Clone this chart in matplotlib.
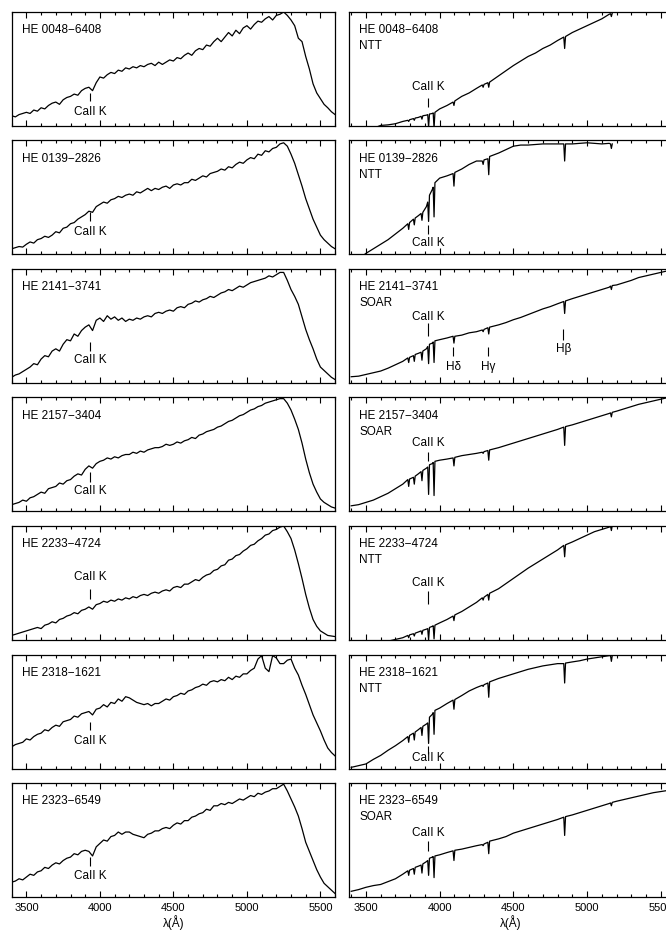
import numpy as np
import matplotlib
matplotlib.use("Agg")
import matplotlib.pyplot as plt
from matplotlib.ticker import MultipleLocator

plt.rcParams['font.family'] = ['Liberation Sans', 'DejaVu Sans']

nan = np.nan

# star names and telescopes (top to bottom)
stars = ["HE 0048\u22126408", "HE 0139\u22122826", "HE 2141\u22123741", "HE 2157\u22123404",
         "HE 2233\u22124724", "HE 2318\u22121621", "HE 2323\u22126549"]
telescopes = ["NTT", "NTT", "SOAR", "SOAR", "NTT", "NTT", "SOAR"]

# low resolution spectra (left column), 25 A sampling, relative flux
wl_low = np.arange(3400, 5601, 25)
flux_low_0048 = [9, 8, 10, 11, 12, 11, 14, 13,
                 16, 15, 18, 20, 21, 19, 23, 25,
                 26, 28, 27, 31, 33, 34, 31, 38,
                 43, 42, 45, 47, 46, 49, 48, 51,
                 50, 52, 51, 53, 52, 54, 55, 53,
                 56, 54, 56, 58, 57, 60, 59, 62,
                 64, 62, 66, 68, 67, 71, 70, 74,
                 77, 74, 78, 82, 79, 84, 81, 86,
                 88, 85, 89, 92, 91, 94, 96, 93,
                 97, 98, 100, 97, 93, 88, 77, 74,
                 61, 50, 37, 29, 24, 19, 16, 12.5,
                 10]
flux_low_0139 = [5, 6, 7, 6.5, 9, 11, 10, 13,
                 14, 16, 15, 17, 20, 19, 23, 24,
                 27, 28, 31, 33, 35, 38, 37, 42,
                 44, 46, 45, 48, 49, 51, 50, 52,
                 53, 52, 55, 54, 56, 58, 56, 58,
                 57, 59, 60, 58, 61, 62, 61, 63,
                 63, 66, 65, 67, 69, 68, 71, 72,
                 73, 75, 74, 77, 76, 79, 81, 80,
                 83, 85, 84, 88, 87, 91, 90, 93,
                 94, 97, 98, 95, 88, 80, 70, 60,
                 49, 40, 31, 24, 17, 13, 10, 7,
                 5]
flux_low_2141 = [5, 7, 8, 10, 12, 14, 17, 16,
                 21, 24, 23, 28, 30, 28, 34, 38,
                 37, 43, 41, 46, 49, 51, 46, 55,
                 57, 54, 59, 56, 58, 55, 57, 54,
                 56, 55, 57, 56, 58, 59, 58, 61,
                 62, 61, 63, 64, 63, 66, 67, 66,
                 69, 70, 72, 71, 73, 74, 76, 75,
                 77, 79, 80, 82, 81, 83, 85, 84,
                 86, 88, 89, 90, 91, 92, 94, 93,
                 95, 97, 97, 90, 82, 76, 69, 58,
                 47, 38, 30, 21, 14, 11, 8, 5,
                 3]
flux_low_2157 = [6, 7, 8, 10, 9, 12, 13, 15,
                 17, 16, 20, 21, 22, 25, 24, 27,
                 28, 31, 33, 32, 37, 40, 38, 42,
                 44, 45, 47, 46, 48, 47, 49, 50,
                 50, 52, 51, 53, 52, 54, 55, 56,
                 56, 57, 59, 58, 59, 61, 60, 62,
                 63, 65, 64, 67, 68, 70, 71, 72,
                 74, 75, 77, 79, 80, 82, 84, 85,
                 87, 89, 90, 92, 93, 95, 96, 97,
                 98, 99, 99, 95, 89, 81, 72, 60,
                 46, 34, 24, 17, 11, 8, 6, 4,
                 3]
flux_low_2233 = [4, 5, 6, 7, 8, 9, 10, 11,
                 10, 13, 14, 16, 15, 18, 19, 21,
                 22, 24, 23, 26, 27, 29, 27, 31,
                 32, 34, 33, 35, 34, 36, 35, 37,
                 36, 38, 37, 39, 40, 39, 41, 42,
                 41, 43, 44, 43, 46, 47, 46, 49,
                 49, 51, 53, 52, 55, 57, 58, 61,
                 62, 65, 66, 70, 71, 74, 75, 78,
                 80, 83, 84, 87, 89, 92, 93, 96,
                 97, 99, 100, 95, 89, 79, 67, 54,
                 40, 28, 18, 12, 8, 6, 4, 3.5,
                 3]
flux_low_2318 = [19, 21, 22, 23, 26, 25, 28, 30,
                 31, 34, 33, 36, 38, 37, 41, 42,
                 43, 46, 45, 48, 49, 50, 47, 52,
                 53, 56, 54, 58, 57, 61, 59, 63,
                 62, 60, 58, 57, 56, 57, 55, 57,
                 57, 59, 61, 60, 63, 64, 66, 65,
                 68, 69, 71, 72, 74, 73, 76, 77,
                 76, 78, 77, 80, 78, 81, 80, 83,
                 83, 86, 88, 96, 99, 88, 85, 99,
                 97, 92, 92, 95, 96, 88, 82, 73,
                 65, 56, 47, 40, 33, 25, 18, 14,
                 11]
flux_low_2323 = [13, 14, 16, 15, 17.5, 20, 19, 22,
                 23, 26, 25, 28, 30, 29, 32, 34,
                 35, 38, 37, 40, 41, 40, 36, 44,
                 47, 50, 49, 53, 54, 57, 55, 57,
                 57, 55, 54, 53, 52, 55, 56, 58,
                 58, 60, 61, 60, 63, 65, 64, 67,
                 67, 70, 71, 73, 74, 77, 76, 80,
                 80, 82, 81, 83, 82, 84, 86, 85,
                 87, 89, 88, 91, 90, 92, 93, 95,
                 95, 97, 99, 93, 86, 79, 71, 60,
                 48, 40, 32, 24, 17.5, 12, 9, 6,
                 3]

# medium resolution spectra (right column), sampled around the absorption lines
wl_med = [3400, 3450, 3500, 3550, 3600, 3650, 3700, 3750,
          3784, 3790, 3796, 3822, 3828, 3834, 3855, 3874, 3880, 3886,
          3910, 3919, 3925, 3931, 3950, 3956, 3962, 3968,
          4000, 4050, 4091, 4097, 4103, 4150, 4200, 4250,
          4289, 4295, 4301, 4327, 4333, 4339,
          4400, 4450, 4500, 4550, 4600, 4650, 4700, 4750, 4800,
          4842, 4848, 4854, 4900, 4950, 5000, 5050, 5100, 5150,
          5159, 5165, 5171, 5200, 5250, 5300, 5350, 5400, 5450, 5500, 5550, 5600]
flux_med_0048 = [-8, -6, -4, -2, 0.5, 1, 2, 4,
                 5, 4, 5.5, 6.5, 5, 7, 7.5, 8.5, 6, 9,
                 9.5, 10, -1, 10.5, 11, 11.5, -2, 12,
                 15, 18, 21, 18, 22, 26, 29, 33,
                 36, 34, 36.5, 38, 34, 38.5,
                 44, 48.5, 53, 57, 61, 64, 68, 71, 75,
                 78, 68, 78.5, 82, 85, 88, 91, 94, 98,
                 98.5, 96, 99, nan, nan, nan, nan, nan, nan, nan, nan, nan]
flux_med_0139 = [-8, -4, 1, 5, 9, 13, 18, 23,
                 27, 22, 28, 31, 26, 32, 34, 36, 30, 37,
                 42, 46, 29, 52, 57, 59, 33, 63,
                 67, 69, 71, 60, 72, 75, 79, 82,
                 82, 79, 83, 84, 70, 86,
                 89, 92, 95, 96, 96, 96.5, 97, 97, 97,
                 97, 82, 97, 97, 97.5, 98, 97.5, 97, 97.5,
                 97, 93, 97, nan, nan, nan, nan, nan, nan, nan, nan, nan]
flux_med_2141 = [5.5, 6, 7.5, 9, 10.5, 13, 16, 19,
                 22, 18, 22.5, 24, 19, 25, 26, 27, 20, 28,
                 30, 32, 17, 34, 35, 36, 18, 37,
                 38, 39.5, 41, 35, 41, 42, 44, 45,
                 46.5, 45, 47, 48.5, 43, 49,
                 51, 53, 55.5, 57.5, 60, 62.5, 65, 67, 69.5,
                 71.5, 61, 72, 74, 76, 78, 80, 82, 84,
                 85, 82, 85.5, 86, 88, 90, 92.5, 94, 95.5, 97, 98.5, 100]
flux_med_2157 = [5, 6, 8, 10, 13, 16, 20, 24,
                 28, 22, 28.5, 30, 24, 31, 33, 35, 27, 36,
                 38, 39, 15, 41, 42, 43, 14, 44,
                 45, 46, 47, 40, 47.5, 49, 50, 51,
                 52, 51, 52.5, 53.5, 45, 54,
                 56, 58, 60, 62, 64, 66, 68, 70, 72,
                 74, 58, 74.5, 76, 78, 80, 82, 84, 86,
                 86.5, 83, 87, 88, 90, 92, 94, 95.5, 97, 98.5, 100, 101]
flux_med_2233 = [-10, -8, -6, -4, -2, -1, 0.5, 2,
                 4, 2, 4.5, 5.5, 3.5, 6, 7, 8, 5, 8.5,
                 9.5, 10, 0, 11, 12, 12.5, 1, 13,
                 15, 18, 21, 17, 22, 25, 29, 33,
                 37, 35, 37.5, 40, 35, 41,
                 45, 49.5, 54, 58.5, 63, 67, 71, 75, 79,
                 83, 73, 83.5, 86, 89, 92, 95, 97, 99,
                 100, 96, 100.5, nan, nan, nan, nan, nan, nan, nan, nan, nan]
flux_med_2318 = [1, 2.5, 4, 8, 11.5, 16, 20, 24.5,
                 28, 23, 29, 31, 25, 32, 34, 36, 29, 37,
                 39, 40, 22, 45, 47.5, 49, 30, 51,
                 53, 57, 60, 52, 60.5, 64, 68, 71,
                 73, 72, 73.5, 75, 62.5, 76,
                 79, 81, 83, 85, 87, 88.5, 90, 91, 92,
                 92, 75, 92.5, 93.5, 94.5, 96, 97, 98, 99,
                 99, 94, 99, nan, nan, nan, nan, nan, nan, nan, nan, nan]
flux_med_2323 = [5, 6.5, 8.5, 10, 11, 13.5, 16, 20,
                 23, 19, 23.5, 25, 20, 26, 27, 28, 21, 29,
                 31, 32, 19, 34, 35, 35.5, 17, 36,
                 37, 39, 40.5, 32, 41, 42, 43.5, 45,
                 46, 45, 46.5, 48, 38, 49,
                 51, 53, 56, 58, 60, 62, 64, 66, 68,
                 70, 54, 70.5, 72, 74, 76, 78, 80, 82,
                 82.5, 80, 83, 84, 85.5, 87, 88.5, 90, 91.5, 92.5, 93.5, 94.5]

low = [flux_low_0048, flux_low_0139, flux_low_2141, flux_low_2157,
       flux_low_2233, flux_low_2318, flux_low_2323]
med = [flux_med_0048, flux_med_0139, flux_med_2141, flux_med_2157,
       flux_med_2233, flux_med_2318, flux_med_2323]

# CaII K marks: (x, tick bottom, tick top, text y)
cak_left = [(3933, 22, 29, 12.5), (3933, 29, 37, 20), (3933, 28, 36, 20), (3933, 26, 35, 18),
            (3933, 36, 45, 55), (3933, 34, 41, 24), (3933, 27, 35, 18)]
cak_right = [(3922, 17, 25, 34), (3922, 18, 26, 10), (3922, 41, 53, 58), (3922, 44, 52, 60),
             (3922, 32, 43, 50), (3922, 13, 20, 9), (3922, 40, 49, 56)]

W, H = 666.0, 936.0
fig = plt.figure(figsize=(6.66, 9.36), dpi=100)


def panel(px_left, row, xlim):
    top = 12 + row * 128.5
    ax = fig.add_axes([px_left / W, 1 - (top + 114) / H, 323.4 / W, 114 / H])
    ax.set_xlim(*xlim)
    ax.set_ylim(0, 100)
    ax.set_yticks([])
    ax.xaxis.set_major_locator(MultipleLocator(500))
    ax.xaxis.set_minor_locator(MultipleLocator(100))
    ax.tick_params(axis='x', which='both', direction='in', top=True, bottom=True,
                   width=0.8, labelsize=8, pad=4)
    ax.tick_params(axis='x', which='major', length=4.5)
    ax.tick_params(axis='x', which='minor', length=2.5)
    for s in ax.spines.values():
        s.set_linewidth(0.9)
    if row < 6:
        ax.set_xticklabels([])
    return ax


for i in range(7):
    # left: low resolution
    ax = panel(11.7, i, (3400, 5600))
    ax.plot(wl_low, low[i], color='k', lw=0.9)
    ax.text(0.031, 0.84, stars[i], transform=ax.transAxes, fontsize=8.5, va='center')
    x, lo, hi, ty = cak_left[i]
    ax.vlines(x, lo, hi, color='k', lw=0.8)
    ax.text(x, ty, "CaII K", fontsize=8.5, ha='center', va='center')
    if i == 6:
        ax.set_xlabel("\u03bb(\u00c5)", fontsize=8.5, labelpad=2)

    # right: medium resolution
    ax = panel(349, i, (3385, 5579))
    ax.plot(wl_med, med[i], color='k', lw=0.9)
    ax.text(0.031, 0.84, stars[i], transform=ax.transAxes, fontsize=8.5, va='center')
    ax.text(0.031, 0.70, telescopes[i], transform=ax.transAxes, fontsize=8.5, va='center')
    x, lo, hi, ty = cak_right[i]
    ax.vlines(x, lo, hi, color='k', lw=0.8)
    ax.text(x, ty, "CaII K", fontsize=8.5, ha='center', va='center')
    if i == 2:
        for lx, name, l0, l1, t in [(4093, "H\u03b4", 24, 32, 14), (4326, "H\u03b3", 24, 32, 14),
                                    (4839, "H\u03b2", 38, 47, 30)]:
            ax.vlines(lx, l0, l1, color='k', lw=0.8)
            ax.text(lx, t, name, fontsize=8.5, ha='center', va='center')
    if i == 6:
        ax.set_xlabel("\u03bb(\u00c5)", fontsize=8.5, labelpad=2)

fig.savefig("out.png", dpi=100)
